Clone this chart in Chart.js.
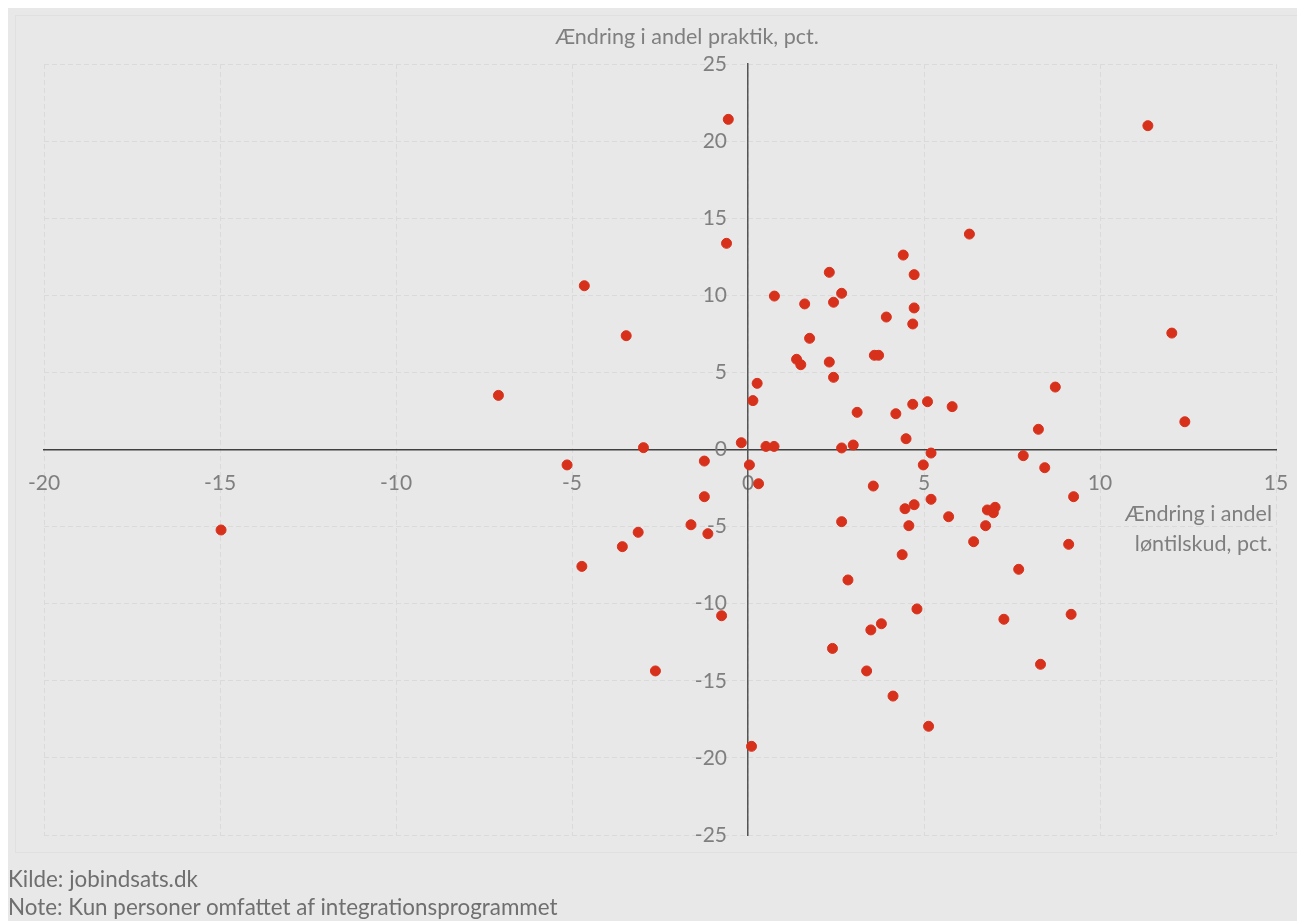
<!DOCTYPE html>
<html>
<head>
<meta charset="utf-8">
<script src="https://cdn.jsdelivr.net/npm/chart.js@4.4.1/dist/chart.umd.min.js"></script>
<style>
  html, body { margin: 0; padding: 0; background: #fff; }
  #wrap { position: absolute; left: 8px; top: 8px; width: 1289px; height: 913px; background: #e8e8e8; }
  #frame { position: absolute; left: 7px; top: 7px; width: 1290px; height: 838px; border: 1px solid #e0e0e0; box-sizing: border-box; }
  #box { position: absolute; left: -8px; top: -8px; width: 1297px; height: 921px; }
  .note { position: absolute; left: 0px; font-family: Lato, "Open Sans", sans-serif; font-size: 22.4px; color: #6f6f6f; }
</style>
</head>
<body>
<div id="wrap">
  <div id="frame"></div>
  <div id="box"><canvas id="chart" width="1297" height="921"></canvas></div>
  <div class="note" style="top:857px">Kilde: jobindsats.dk</div>
  <div class="note" style="top:885px">Note: Kun personer omfattet af integrationsprogrammet</div>
</div>
<script>
// Ændring i andel løntilskud (x) og praktik (y), pct.-point
const loentilskud = [
  -0.56, 11.36, -0.61, 6.29, 4.41, 2.31, 4.72, -4.65, 0.75, 2.66,
  1.61, 2.43, 4.72, 3.93, 4.68, -3.46, 12.04, 1.75, 3.59, 3.71,
  1.38, 1.5, 2.31, 2.43, 0.26, 8.73, -7.09, 0.14, 5.1, 4.68,
  5.8, 3.1, 4.2, 12.41, 8.25, 4.49, -0.19, 2.99, 0.51, 0.74,
  -2.97, 2.66, 5.2, 7.82, -1.24, -5.14, 0.04, 4.98, 8.43, 0.3,
  3.56, -1.24, 9.25, 5.2, 4.72, 4.46, 6.8, 7.02, 6.97, 5.7,
  -1.62, 2.66, 4.57, 6.75, -3.12, -1.14, -14.97, -3.57, 6.41, 9.11,
  4.38, -4.72, 7.69, 2.84, 4.8, 9.18, -0.75, 7.27, 3.79, 3.49,
  2.4, 8.31, -2.63, 3.37, 4.12, 5.13, 0.1
];
const praktik = [
  21.41, 21.0, 13.37, 13.97, 12.61, 11.49, 11.34, 10.62, 9.95, 10.13,
  9.44, 9.55, 9.18, 8.59, 8.14, 7.38, 7.55, 7.21, 6.11, 6.11,
  5.85, 5.5, 5.67, 4.68, 4.29, 4.05, 3.51, 3.17, 3.1, 2.93,
  2.78, 2.41, 2.32, 1.8, 1.31, 0.7, 0.44, 0.29, 0.2, 0.2,
  0.12, 0.1, -0.23, -0.4, -0.75, -1.0, -1.0, -1.0, -1.18, -2.22,
  -2.37, -3.06, -3.06, -3.23, -3.58, -3.84, -3.92, -3.75, -4.1, -4.36,
  -4.88, -4.68, -4.94, -4.94, -5.37, -5.46, -5.22, -6.3, -5.98, -6.15,
  -6.82, -7.58, -7.77, -8.46, -10.34, -10.69, -10.78, -11.01, -11.3, -11.7,
  -12.9, -13.93, -14.36, -14.36, -15.99, -17.95, -19.25
];
const xRange = [-20, 15];
const yRange = [-25, 25];
const xTitle = ['Ændring i andel', 'løntilskud, pct.'];
const yTitle = 'Ændring i andel praktik, pct.';

const points = loentilskud.map((x, i) => ({ x: x, y: praktik[i] }));
const FONT = 'Lato, "Open Sans", sans-serif';
const GREY = '#7f7f7f';

// akse-titler + y-etiketter flyttes lidt væk fra aksen
const titles = {
  id: 'titles',
  beforeDraw(chart) {
    const items = chart.scales.y.getLabelItems(chart.chartArea);
    items.forEach(it => {
      if (!it._moved) { it.options.translation[0] -= 21; it._moved = true; }
    });
  },
  afterDraw(chart) {
    const { ctx, chartArea } = chart;
    ctx.save();
    ctx.fillStyle = GREY;
    ctx.font = '21.5px ' + FONT;
    ctx.textBaseline = 'middle';
    ctx.textAlign = 'center';
    ctx.fillText(yTitle, 687, chartArea.top - 27);
    ctx.textAlign = 'right';
    ctx.fillText(xTitle[0], chartArea.right - 4, 514);
    ctx.fillText(xTitle[1], chartArea.right - 4, 544);
    ctx.restore();
  }
};

new Chart(document.getElementById('chart'), {
  type: 'scatter',
  data: {
    datasets: [{
      data: points,
      backgroundColor: '#d7311c',
      borderColor: '#d7311c',
      pointRadius: 5,
      pointHoverRadius: 5
    }]
  },
  options: {
    responsive: false,
    animation: false,
    layout: { padding: { left: 44, right: 21, top: 64, bottom: 86 } },
    plugins: { legend: { display: false }, tooltip: { enabled: false } },
    scales: {
      x: {
        type: 'linear',
        min: xRange[0], max: xRange[1],
        position: { y: 0 },
        afterFit(scale) { scale.height = 0; scale.paddingLeft = 0; scale.paddingRight = 0; },
        grid: { color: '#dadada', lineWidth: 1, drawTicks: false },
        // i v4 styrer border.dash gitterlinjernes stiplering
        border: { display: true, color: '#404040', width: 1.5, dash: [5, 3] },
        ticks: { stepSize: 5, padding: 21, color: GREY, font: { family: FONT, size: 21 } }
      },
      y: {
        type: 'linear',
        min: yRange[0], max: yRange[1],
        position: { x: 0 },
        afterFit(scale) { scale.width = 0; scale.paddingTop = 0; scale.paddingBottom = 0; },
        grid: { color: '#dadada', lineWidth: 1, drawTicks: false },
        border: { display: true, color: '#555555', width: 1.5, dash: [5, 3] },
        ticks: { stepSize: 5, padding: 0, color: GREY, font: { family: FONT, size: 21 } }
      }
    }
  },
  plugins: [titles]
});
</script>
</body>
</html>
